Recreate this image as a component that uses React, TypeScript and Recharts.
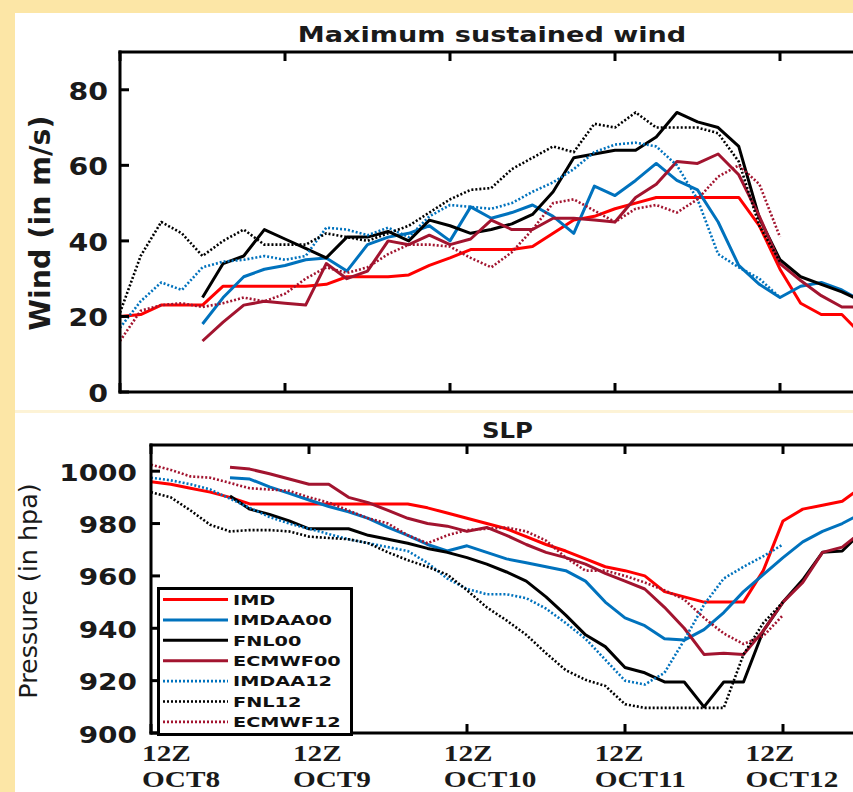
import React from 'react';
import { LineChart, Line, XAxis, YAxis, Legend } from 'recharts';

// ---- categories / ticks ----
const HOURS = [0, 3, 6, 9, 12, 15, 18, 21, 24, 27, 30, 33, 36, 39, 42, 45, 48, 51, 54, 57, 60, 63, 66, 69, 72, 75, 78, 81, 84, 87, 90, 93, 96, 99, 102, 105, 108];
const DAY_TICKS = [0, 24, 48, 72, 96];
const DAY_LABELS = ['OCT8', 'OCT9', 'OCT10', 'OCT11', 'OCT12'];
const HOUR_LABEL = '12Z';
const WIND_TICKS = [0, 20, 40, 60, 80];
const SLP_TICKS = [900, 920, 940, 960, 980, 1000];

// ---- series (values every 3 h from the series' start hour) ----
const SERIES = [
  { key: 'IMD', color: '#ff0000', dotted: false, start: 0 },
  { key: 'IMDAA00', color: '#0072bd', dotted: false, start: 12 },
  { key: 'FNL00', color: '#000000', dotted: false, start: 12 },
  { key: 'ECMWF00', color: '#a2142f', dotted: false, start: 12 },
  { key: 'IMDAA12', color: '#0072bd', dotted: true, start: 0 },
  { key: 'FNL12', color: '#000000', dotted: true, start: 0 },
  { key: 'ECMWF12', color: '#a2142f', dotted: true, start: 0 },
];

// Maximum sustained wind (m/s)
const windIMD = [20, 20.5, 23, 23, 23, 28, 28, 28, 28, 28, 28.5, 30.5, 30.5, 30.5, 31, 33.5, 35.5, 37.7, 37.7, 37.7, 38.5, 42, 45.5, 46.5, 48.5, 50, 51.5, 51.5, 51.5, 51.5, 51.5, 44, 32.5, 23.5, 20.5, 20.5, 15];
const windIMDAA00 = [18, 25, 30.5, 32.5, 33.5, 35, 35.5, 32, 39, 41, 42, 44, 40, 49, 46, 47.5, 49.5, 46.5, 42, 54.5, 52, 56, 60.5, 56, 53.5, 45, 33.5, 28.5, 25, 28, 29, 27, 24];
const windFNL00 = [25, 34, 36, 43, 40.5, 38, 35.5, 41, 41, 42.5, 40, 45.5, 44, 42, 43, 44.5, 47, 53, 62, 63, 64, 64, 67.5, 74, 71.5, 70, 65, 46, 35, 30.5, 28.5, 26.5, 24];
const windECMWF00 = [13.5, 18.5, 23, 24, 23.5, 23, 34, 30, 32, 40, 39, 41.5, 39, 40.5, 45.5, 43, 43, 46, 46, 45.5, 45, 51.5, 55, 61, 60.5, 63, 57.5, 46.5, 34, 29.5, 25.5, 22.5, 22.5];
const windIMDAA12 = [17, 24, 29, 27, 33, 34.5, 35, 36, 35, 36, 43.5, 43, 41.5, 43.5, 41, 46.5, 49.5, 49, 48.5, 50, 53, 55.5, 59, 63.5, 65.5, 66, 65, 60, 51, 36.5, 33, 30, 25];
const windFNL12 = [21, 36, 45, 42, 36, 40, 43, 39, 39, 39, 42, 41, 40, 42, 44, 47.5, 51, 53.5, 54, 59, 62, 65, 63.5, 71, 70, 74, 70, 70, 70, 68.5, 61, 44, 34.5];
const windECMWF12 = [13.5, 21.5, 23, 23.5, 22.5, 23.5, 25, 24, 26, 30, 33, 31.5, 33, 36.5, 39, 39, 38.5, 35.5, 33, 37, 43, 50, 51, 48, 45, 48.5, 49.5, 47.5, 51, 57, 60, 55, 41];

// Sea level pressure (hPa)
const slpIMD = [996, 995, 993.5, 992, 990, 987.5, 987.5, 987.5, 987.5, 987.5, 987.5, 987.5, 987.5, 987.5, 986, 984, 982, 980, 978, 975, 972, 969.5, 966.5, 963.5, 962, 960, 954, 952, 950, 950, 950, 962, 981, 985.5, 987, 988.5, 994];
const slpIMDAA00 = [997.5, 997, 994, 991.5, 989, 986.5, 984.5, 982, 978.5, 975.5, 972, 969.5, 971.5, 969, 966.5, 965, 963.5, 962, 958, 950, 944, 941, 936, 935.5, 939.5, 946, 954, 960.5, 967, 973, 977, 980, 984];
const slpFNL00 = [990.5, 985.5, 983.5, 981, 978, 978, 978, 975.5, 974, 972.5, 970.5, 969, 967, 964.5, 961.5, 958, 952, 945, 937.5, 933, 925, 923, 919.5, 919.5, 910, 919.5, 919.5, 939, 950, 958.5, 969, 969.5, 977];
const slpECMWF00 = [1001.5, 1000.8, 999, 997, 995, 995, 990, 988, 985, 982, 980, 979, 977, 978.5, 975.5, 972, 969, 967, 964.5, 961, 958, 955, 948, 940, 930, 930.5, 930, 939, 950, 957.5, 969, 971, 977];
const slpIMDAA12 = [997.5, 996.5, 995, 993, 989.5, 986, 982.5, 980, 978, 976, 974, 972.5, 971, 969.5, 965, 959, 955, 953, 953, 951.5, 947.5, 942, 936, 928, 920, 918.5, 923, 935.5, 949, 959, 963.5, 967.5, 972];
const slpFNL12 = [992, 990, 985, 979.5, 977, 977.5, 977.5, 977, 975, 974.5, 974, 972.5, 969, 966, 963.5, 960.5, 954.5, 948, 943, 937.5, 930.5, 924, 920.3, 918, 911, 909.6, 909.6, 909.6, 909.6, 909.6, 930, 942, 950];
const slpECMWF12 = [1002.5, 1000.5, 998, 997.5, 995.5, 993.5, 993, 992.5, 990, 988, 985, 982, 980, 975.5, 972.5, 975.5, 977.5, 978, 978.5, 977, 973.5, 967, 962, 962, 960, 957.5, 954.5, 951, 944, 938, 934, 937, 945];

const WIND_VALUES: Record<string, number[]> = {
  IMD: windIMD, IMDAA00: windIMDAA00, FNL00: windFNL00, ECMWF00: windECMWF00,
  IMDAA12: windIMDAA12, FNL12: windFNL12, ECMWF12: windECMWF12,
};
const SLP_VALUES: Record<string, number[]> = {
  IMD: slpIMD, IMDAA00: slpIMDAA00, FNL00: slpFNL00, ECMWF00: slpECMWF00,
  IMDAA12: slpIMDAA12, FNL12: slpFNL12, ECMWF12: slpECMWF12,
};

function buildRows(values: Record<string, number[]>) {
  return HOURS.map((h, i) => {
    const row: Record<string, number> = { h };
    SERIES.forEach((s) => {
      const idx = i - HOURS.indexOf(s.start);
      const arr = values[s.key];
      if (idx >= 0 && idx < arr.length) row[s.key] = arr[idx];
    });
    return row;
  });
}

const windRows = buildRows(WIND_VALUES);
const slpRows = buildRows(SLP_VALUES);

// ---- styling / layout ----
const BG = '#fce6a6';
const TICK_LEN = 9;
const FRAME = { stroke: '#000', strokeWidth: 3, strokeLinecap: 'square' as const };
const SANS = 'DejaVu Sans';
const SERIF = 'Liberation Serif';
const INK = '#1a1a1a';
const PLOT2_LEFT = 151;
const AXW = 60; // width reserved for left axis
const AXS = 10; // size reserved for the other axes

const TickUp = (p: any) => (
  <line x1={p.x} x2={p.x} y1={p.y} y2={p.y - TICK_LEN} stroke="#000" strokeWidth={3} />
);
const TickDown = (p: any) => (
  <line x1={p.x} x2={p.x} y1={p.y} y2={p.y + TICK_LEN} stroke="#000" strokeWidth={3} />
);
const TickLeft = (p: any) => (
  <line x1={p.x} x2={p.x - TICK_LEN} y1={p.y} y2={p.y} stroke="#000" strokeWidth={3} />
);

const WindYTick = (p: any) => (
  <g>
    <line x1={p.x} x2={p.x + TICK_LEN} y1={p.y} y2={p.y} stroke="#000" strokeWidth={3} />
    <text
      transform={`translate(${p.x - 12},${p.y + 10}) scale(1.16,1)`}
      textAnchor="end" fontFamily={SANS} fontWeight="bold" fontSize={24.5} fill={INK}
    >
      {p.payload.value}
    </text>
  </g>
);

const SlpYTick = (p: any) => (
  <g>
    <line x1={p.x} x2={p.x + TICK_LEN} y1={p.y} y2={p.y} stroke="#000" strokeWidth={3} />
    <text
      transform={`translate(${p.x - 14},${p.y + 9.5}) scale(1.2,1)`}
      textAnchor="end" fontFamily={SANS} fontWeight="bold" fontSize={23.3} fill={INK}
    >
      {p.payload.value}
    </text>
  </g>
);

const DateTick = (p: any) => {
  const i = DAY_TICKS.indexOf(p.payload.value);
  const lx = PLOT2_LEFT - 9 + (p.x - PLOT2_LEFT) * 0.955;
  return (
    <g>
      <line x1={p.x} x2={p.x} y1={p.y} y2={p.y - TICK_LEN} stroke="#000" strokeWidth={3} />
      <text transform={`translate(${lx},${p.y + 28}) scale(1.22,1)`} fontFamily={SERIF} fontWeight="bold" fontSize={24} fill={INK}>
        {HOUR_LABEL}
      </text>
      <text transform={`translate(${lx},${p.y + 53.5}) scale(1.22,1)`} fontFamily={SERIF} fontWeight="bold" fontSize={24} fill={INK}>
        {DAY_LABELS[i]}
      </text>
    </g>
  );
};

const LegendBox = () => (
  <svg width={196} height={149} style={{ display: 'block' }}>
    <rect x={1.5} y={1.5} width={193} height={146} fill="#fff" stroke="#000" strokeWidth={3} />
    {SERIES.map((s, i) => {
      const cy = 12.5 + i * 20.4;
      return (
        <g key={s.key}>
          <line
            x1={6} x2={71} y1={cy} y2={cy} stroke={s.color}
            strokeWidth={s.dotted ? 2.6 : 3} strokeDasharray={s.dotted ? '2 2' : undefined}
          />
          <text
            transform={`translate(76,${cy + 5.3}) scale(1.33,1)`}
            fontFamily={SANS} fontWeight="bold" fontSize={14.5} fill="#111"
          >
            {s.key}
          </text>
        </g>
      );
    })}
  </svg>
);

function renderLines() {
  return SERIES.map((s) => (
    <Line
      key={s.key}
      type="linear"
      dataKey={s.key}
      name={s.key}
      stroke={s.color}
      strokeWidth={s.dotted ? 2.6 : 3}
      strokeDasharray={s.dotted ? '2 2' : undefined}
      strokeLinejoin="round"
      dot={false}
      activeDot={false}
      isAnimationActive={false}
    />
  ));
}

function frameAxes(yDomain: number[], yTicks: number[], leftTick: any, bottomTick: any) {
  return [
    <XAxis key="xb" dataKey="h" type="number" domain={[0, 108]} ticks={DAY_TICKS} interval={0} height={AXS}
      tickSize={0} tickMargin={0} tickLine={false} axisLine={FRAME} tick={bottomTick} allowDataOverflow />,
    <XAxis key="xt" xAxisId="top" orientation="top" dataKey="h" type="number" domain={[0, 108]} ticks={DAY_TICKS} interval={0} height={AXS}
      tickSize={0} tickMargin={0} tickLine={false} axisLine={FRAME} tick={TickDown} allowDataOverflow />,
    <YAxis key="yl" type="number" domain={yDomain} ticks={yTicks} interval={0} width={AXW}
      tickSize={0} tickMargin={0} tickLine={false} axisLine={FRAME} tick={leftTick} allowDataOverflow />,
    <YAxis key="yr" yAxisId="right" orientation="right" type="number" domain={yDomain} ticks={yTicks} interval={0} width={AXS}
      tickSize={0} tickMargin={0} tickLine={false} axisLine={FRAME} tick={TickLeft} allowDataOverflow />,
  ];
}

export default function App() {
  return (
    <div style={{ position: 'absolute', left: 0, top: 0, width: 853, height: 792, overflow: 'hidden', background: BG }}>
      <div style={{ position: 'absolute', left: 15, top: 13, width: 838, height: 397, background: '#fff' }} />
      <div style={{ position: 'absolute', left: 15, top: 410, width: 838, height: 3, background: '#fdf3d6' }} />
      <div style={{ position: 'absolute', left: 15, top: 413, width: 838, height: 379, background: '#fff' }} />

      {/* Top panel: maximum sustained wind (plot box 120..862.5 x 52..392) */}
      <div style={{ position: 'absolute', left: 0, top: 0 }}>
        <LineChart width={900} height={410} data={windRows}
          margin={{ top: 52 - AXS, left: 120 - AXW, right: 37.5 - AXS, bottom: 18 - AXS }}>
          {frameAxes([0, 90], WIND_TICKS, WindYTick, TickUp)}
          {renderLines()}
        </LineChart>
      </div>

      {/* Bottom panel: SLP (plot box 151..862 x 445..733) */}
      <div style={{ position: 'absolute', left: 0, top: 412 }}>
        <LineChart width={900} height={380} data={slpRows}
          margin={{ top: 33 - AXS, left: PLOT2_LEFT - AXW, right: 38 - AXS, bottom: 59 - AXS }}>
          {frameAxes([900, 1010], SLP_TICKS, SlpYTick, DateTick)}
          {renderLines()}
          <Legend
            layout="vertical" align="center" verticalAlign="middle"
            wrapperStyle={{ left: 157, top: 175, width: 196, height: 149, margin: 0, padding: 0 }}
            content={() => <LegendBox />}
          />
        </LineChart>
      </div>

      {/* Titles and axis names */}
      <svg width={853} height={792} style={{ position: 'absolute', left: 0, top: 0, pointerEvents: 'none' }}>
        <text transform="translate(492,42) scale(1.29,1)" textAnchor="middle" fontFamily={SANS} fontWeight="bold" fontSize={21} fill={INK}>
          Maximum sustained wind
        </text>
        <text transform="translate(507.5,438) scale(1.19,1)" textAnchor="middle" fontFamily={SANS} fontWeight="bold" fontSize={20.5} fill={INK}>
          SLP
        </text>
        <text transform="translate(50,223) rotate(-90)" textAnchor="middle" fontFamily={SANS} fontWeight="bold" fontSize={28.5} fill={INK}>
          Wind (in m/s)
        </text>
        <text transform="translate(37,591) rotate(-90)" textAnchor="middle" fontFamily={SANS} fontSize={25.4} fill={INK}>
          Pressure (in hpa)
        </text>
      </svg>
    </div>
  );
}
